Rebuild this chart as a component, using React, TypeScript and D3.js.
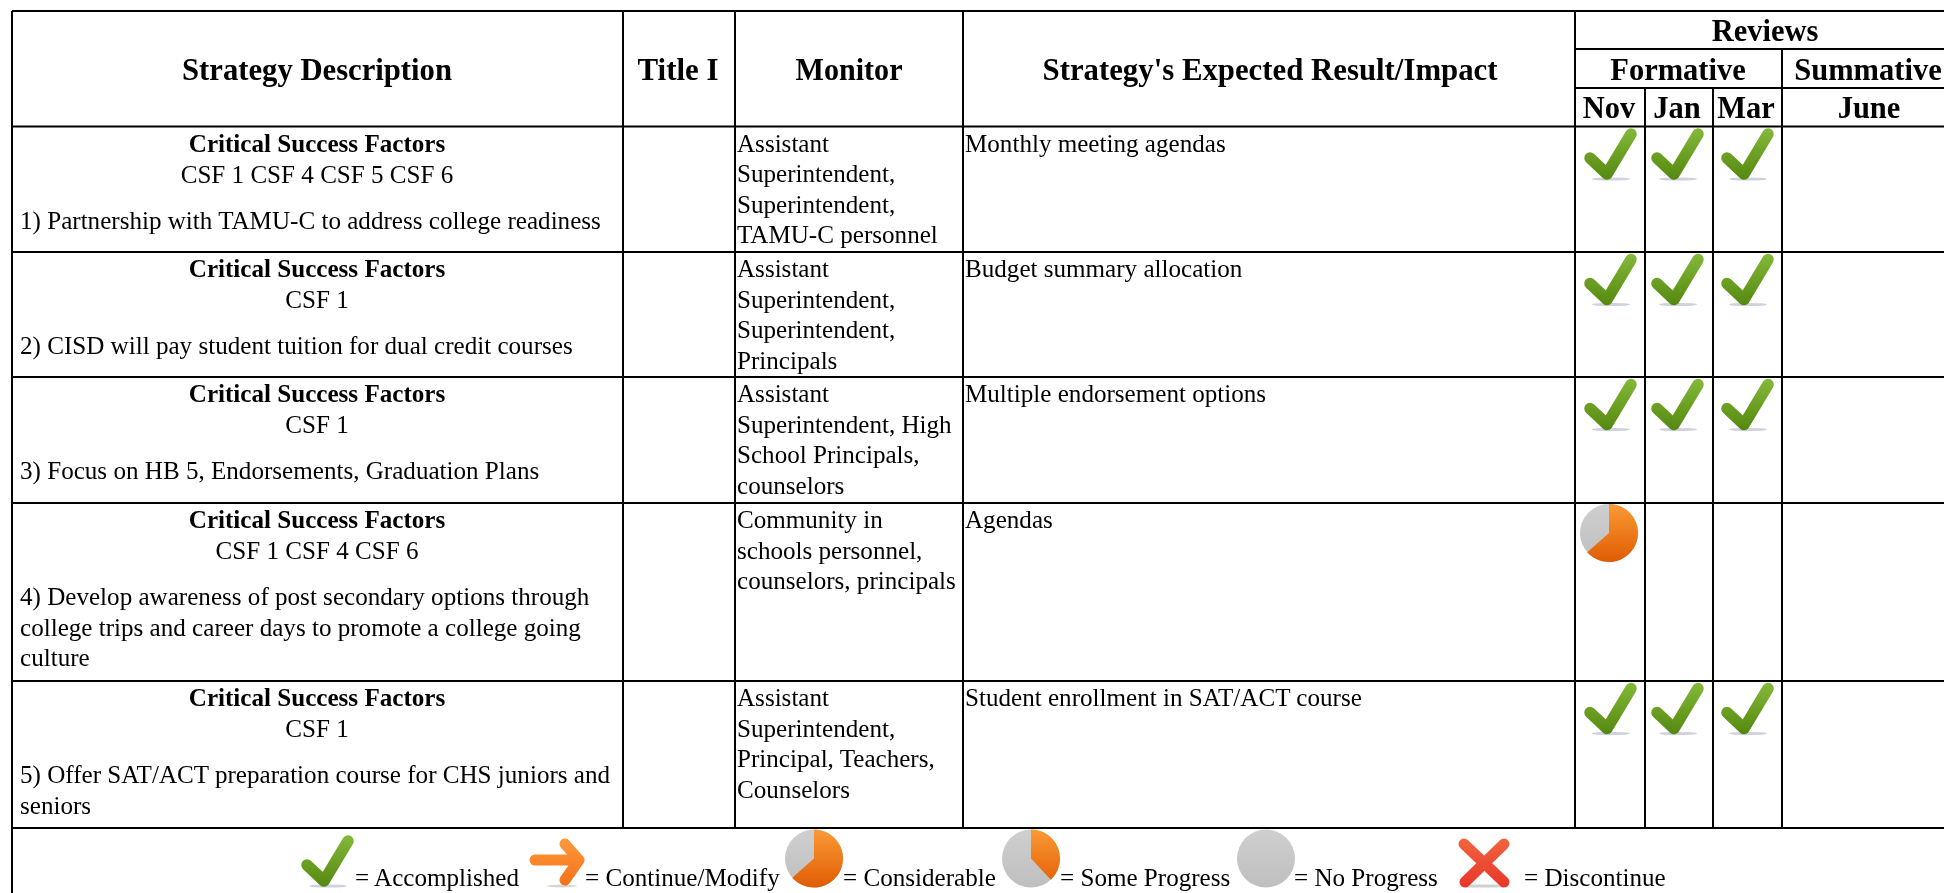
import React from "react";
import * as d3 from "d3";

// ---------- data ----------
const headerColumns = ["Strategy Description", "Title I", "Monitor", "Strategy's Expected Result/Impact"];
const reviewMonths = ["Nov", "Jan", "Mar", "June"];
const csfLists = ["CSF 1 CSF 4 CSF 5 CSF 6", "CSF 1", "CSF 1", "CSF 1 CSF 4 CSF 6", "CSF 1"];
const strategyLines = [
  ["1) Partnership with TAMU-C to address college readiness"],
  ["2) CISD will pay student tuition for dual credit courses"],
  ["3) Focus on HB 5, Endorsements, Graduation Plans"],
  ["4) Develop awareness of post secondary options through", "college trips and career days to promote a college going", "culture"],
  ["5) Offer SAT/ACT preparation course for CHS juniors and", "seniors"],
];
const monitorLines = [
  ["Assistant", "Superintendent,", "Superintendent,", "TAMU-C personnel"],
  ["Assistant", "Superintendent,", "Superintendent,", "Principals"],
  ["Assistant", "Superintendent, High", "School Principals,", "counselors"],
  ["Community in", "schools personnel,", "counselors, principals"],
  ["Assistant", "Superintendent,", "Principal, Teachers,", "Counselors"],
];
const impacts = ["Monthly meeting agendas", "Budget summary allocation", "Multiple endorsement options", "Agendas", "Student enrollment in SAT/ACT course"];
const novStatus = ["check", "check", "check", "considerable", "check"];
const janStatus = ["check", "check", "check", null, "check"];
const marStatus = ["check", "check", "check", null, "check"];
const legendStatus = ["check", "arrow", "considerable", "some", "none", "cross"];
const legendLabels = ["= Accomplished", "= Continue/Modify", "= Considerable", "= Some Progress", "= No Progress", "= Discontinue"];
const pieShare: Record<string, number> = { considerable: 0.635, some: 0.38, none: 0 };

// ---------- layout ----------
const W = 1944, H = 893;
const colEdges = [12, 623, 735, 963, 1575, 1645, 1713, 1782, 1956];
const rowEdges = [126.5, 252, 377, 503, 681, 828];
const headY = [11, 49, 88, 126.5];
const x = d3.scaleOrdinal<number, number>().domain(d3.range(colEdges.length)).range(colEdges);
const y = d3.scaleOrdinal<number, number>().domain(d3.range(rowEdges.length)).range(rowEdges);
const serif = "'Liberation Serif', serif";
const BODY = 25.1, HEAD = 30.5;
const LH = 30.6;
const headerWidths = [270, 81, 107, 455];
const headerCenters = [317, 678, 849, 1270];
const monthCenters = [1609, 1677, 1746, 1869];
const iconColX = [1584, 1651, 1721];
const legendIconX = [301, 528, 785, 1002, 1237, 1458];
const legendTextX = [355, 585, 843, 1060, 1294, 1524];

const linePath = d3.line<[number, number]>();
const arcGen = d3.arc<any>().innerRadius(0).outerRadius(29).startAngle(0);

function Icon({ kind, px, py }: { kind: string; px: number; py: number }) {
  if (kind === "check") {
    return (
      <g transform={`translate(${px},${py})`} filter="url(#soft)">
        <ellipse cx={27} cy={51} rx={19} ry={1.6} fill="#b9bdd0" opacity={0.7} />
        <path d={linePath([[6, 30], [23, 46], [47, 6]]) || ""} fill="none" stroke="url(#gCheck)" strokeWidth={11.5} strokeLinecap="round" strokeLinejoin="round" />
      </g>
    );
  }
  if (kind === "arrow") {
    return (
      <g transform={`translate(${px},${py})`} filter="url(#soft)">
        <ellipse cx={34} cy={48} rx={15} ry={1.5} fill="#c9c4bd" opacity={0.7} />
        <path d={linePath([[7, 22], [50, 22]]) || ""} fill="none" stroke="url(#gArrow)" strokeWidth={11} strokeLinecap="round" />
        <path d={linePath([[37, 6], [51, 22], [37, 42]]) || ""} fill="none" stroke="url(#gArrow)" strokeWidth={11} strokeLinecap="round" strokeLinejoin="round" />
      </g>
    );
  }
  if (kind === "cross") {
    return (
      <g transform={`translate(${px},${py})`} filter="url(#soft)">
        <ellipse cx={26} cy={48} rx={26} ry={1.6} fill="#bdbdbd" opacity={0.7} />
        <path d={linePath([[6, 6], [46, 44]]) || ""} fill="none" stroke="url(#gCross)" strokeWidth={11} strokeLinecap="round" />
        <path d={linePath([[46, 6], [7, 44]]) || ""} fill="none" stroke="url(#gCross)" strokeWidth={11} strokeLinecap="round" />
      </g>
    );
  }
  const share = pieShare[kind];
  return (
    <g transform={`translate(${px + 29},${py + 28.5})`} filter="url(#soft)">
      <circle r={29} fill="url(#gGrey)" />
      {share > 0 && <path d={arcGen({ endAngle: share * 2 * Math.PI }) || ""} fill="url(#gOrange)" />}
    </g>
  );
}

export default function App() {
  const rows = d3.range(5);
  const statuses = [novStatus, janStatus, marStatus];
  const line = (x1: number, y1: number, x2: number, y2: number, k: string) => (
    <line key={k} x1={x1} y1={y1} x2={x2} y2={y2} stroke="#000" strokeWidth={2} />
  );
  return (
    <svg width={W} height={H} viewBox={`0 0 ${W} ${H}`} style={{ position: "absolute", left: 0, top: 0, display: "block", background: "#fff" }} fontFamily={serif} fill="#000">
      <defs>
        <filter id="soft" x="-20%" y="-20%" width="140%" height="140%"><feGaussianBlur stdDeviation={0.7} /></filter>
        <filter id="textSoft" filterUnits="userSpaceOnUse" x="0" y="0" width={W} height={H}><feGaussianBlur stdDeviation={0.3} /></filter>
        <linearGradient id="gCheck" gradientUnits="userSpaceOnUse" x1="0" y1="0" x2="0" y2="52"><stop offset="0" stopColor="#84b93a" /><stop offset="1" stopColor="#54880f" /></linearGradient>
        <linearGradient id="gArrow" gradientUnits="userSpaceOnUse" x1="0" y1="0" x2="0" y2="48"><stop offset="0" stopColor="#ff9a3c" /><stop offset="1" stopColor="#f4701a" /></linearGradient>
        <linearGradient id="gCross" gradientUnits="userSpaceOnUse" x1="0" y1="0" x2="0" y2="50"><stop offset="0" stopColor="#f0663f" /><stop offset="1" stopColor="#e8352a" /></linearGradient>
        <linearGradient id="gOrange" gradientUnits="userSpaceOnUse" x1="0" y1="-29" x2="0" y2="29"><stop offset="0" stopColor="#fb9a35" /><stop offset="1" stopColor="#e05c02" /></linearGradient>
        <linearGradient id="gGrey" gradientUnits="userSpaceOnUse" x1="0" y1="-29" x2="0" y2="29"><stop offset="0" stopColor="#cfcfcf" /><stop offset="1" stopColor="#bfbfbf" /></linearGradient>
      </defs>

      {/* grid */}
      {line(x(0), headY[0], W, headY[0], "top")}
      {line(x(4), headY[1], W, headY[1], "h1")}
      {line(x(4), headY[2], W, headY[2], "h2")}
      {rowEdges.map((ry, i) => line(x(0), ry, W, ry, `r${i}`))}
      {line(x(0), headY[0], x(0), H, "left")}
      {[1, 2, 3, 4].map((c) => line(x(c), headY[0], x(c), y(5), `c${c}`))}
      {line(x(7), headY[1], x(7), y(5), "c7")}
      {[5, 6].map((c) => line(x(c), headY[2], x(c), y(5), `c${c}`))}

      <g filter="url(#textSoft)">
        {/* header */}
        <g fontWeight="bold" fontSize={HEAD} textAnchor="middle">
          {headerColumns.map((t, i) => (
            <text key={t} x={headerCenters[i]} y={80} textLength={headerWidths[i]} lengthAdjust="spacingAndGlyphs">{t}</text>
          ))}
          <text x={1765} y={41}>Reviews</text>
          <text x={1678} y={80}>Formative</text>
          <text x={1868} y={80}>Summative</text>
          {reviewMonths.map((m, i) => <text key={m} x={monthCenters[i]} y={118}>{m}</text>)}
        </g>

        {/* rows */}
        <g fontSize={BODY}>
          {rows.map((r) => (
            <g key={r}>
              <text x={317} y={y(r) + 25} textAnchor="middle" fontWeight="bold">Critical Success Factors</text>
              <text x={317} y={y(r) + 56} textAnchor="middle">{csfLists[r]}</text>
              {strategyLines[r].map((t, i) => <text key={i} x={x(0) + 8} y={y(r) + 102 + i * LH}>{t}</text>)}
              {monitorLines[r].map((t, i) => <text key={i} x={x(2) + 2} y={y(r) + 25 + i * LH}>{t}</text>)}
              <text x={x(3) + 2} y={y(r) + 25}>{impacts[r]}</text>
            </g>
          ))}
          {legendLabels.map((t, i) => <text key={t} x={legendTextX[i]} y={886}>{t}</text>)}
        </g>
      </g>

      {/* review marks */}
      {rows.map((r) => statuses.map((s, c) => s[r] ? (
        <Icon key={`${r}-${c}`} kind={s[r] as string} px={s[r] === "check" ? iconColX[c] : iconColX[c] - 4} py={y(r) + 1.5} />
      ) : null))}

      {/* legend marks */}
      {legendStatus.map((s, i) => (
        <Icon key={s} kind={s} px={legendIconX[i]} py={s === "check" ? 835 : s === "arrow" || s === "cross" ? 838 : 830} />
      ))}
    </svg>
  );
}
